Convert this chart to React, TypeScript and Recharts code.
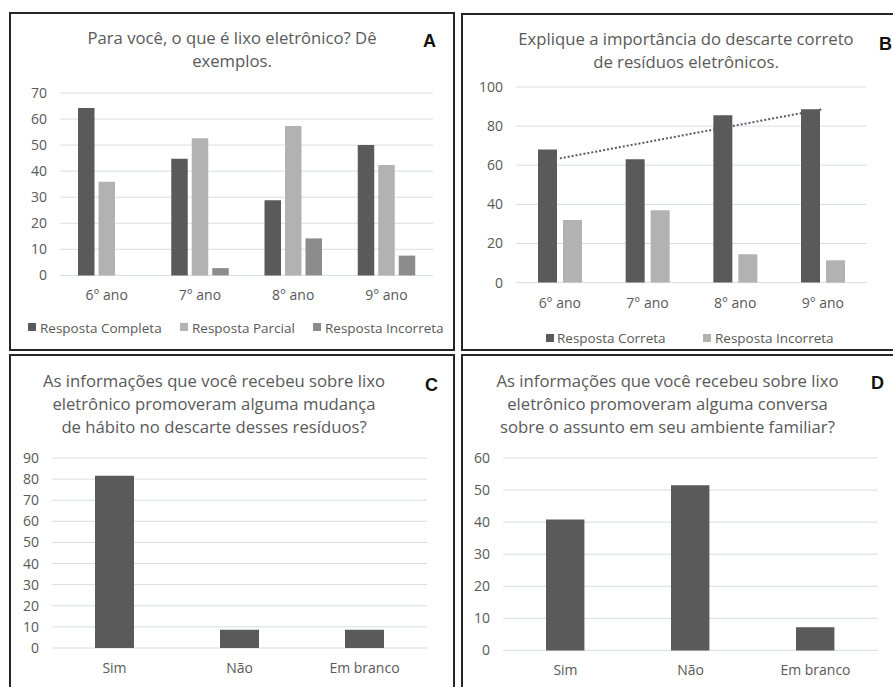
import React from "react";
import { BarChart, Bar, ComposedChart, Line, XAxis, YAxis, CartesianGrid } from "recharts";

// shared categories
const grades = ["6° ano", "7° ano", "8° ano", "9° ano"];
const answers = ["Sim", "Não", "Em branco"];

// A: Para você, o que é lixo eletrônico?
const completaA = [64.2, 44.8, 28.8, 50];
const parcialA = [35.9, 52.6, 57.3, 42.4];
const incorretaA = [0, 2.8, 14.2, 7.6];
const ticksA = [0, 10, 20, 30, 40, 50, 60, 70];

// B: importância do descarte correto
const corretaB = [68, 63, 85.5, 88.6];
const incorretaB = [32, 37, 14.5, 11.4];
const trendB = [63.5, 71.9, 80.3, 88.7];
const ticksB = [0, 20, 40, 60, 80, 100];

// C: mudança de hábito
const valuesC = [81.6, 8.7, 8.7];
const ticksC = [0, 10, 20, 30, 40, 50, 60, 70, 80, 90];

// D: conversa no ambiente familiar
const valuesD = [40.8, 51.5, 7.2];
const ticksD = [0, 10, 20, 30, 40, 50, 60];

const dark = "#5a5a5a";
const light = "#b2b2b2";
const mid = "#8c8c8c";
const grid = "#d9dde1";
const textColor = "#595959";
const font = "'Open Sans', sans-serif";

const dataA = grades.map((g, i) => ({ name: g, completa: completaA[i], parcial: parcialA[i], incorreta: incorretaA[i] }));
const dataB = grades.map((g, i) => ({ name: g, correta: corretaB[i], incorreta: incorretaB[i], trend: trendB[i] }));
const dataC = answers.map((a, i) => ({ name: a, value: valuesC[i] }));
const dataD = answers.map((a, i) => ({ name: a, value: valuesD[i] }));

const YW = 50;
const MT = 10;
const XH = 40;
const MR = 10;

function frame(pl: number, pr: number, pt: number, pb: number) {
  return {
    left: pl - YW,
    top: pt - MT,
    width: pr - pl + YW + MR,
    height: pb - pt + MT + XH,
  };
}

const tick = { fill: textColor, fontSize: 14, fontFamily: font };

function axes(max: number, ticks: number[]) {
  return [
    <CartesianGrid key="g" vertical={false} stroke={grid} />,
    <XAxis key="x" dataKey="name" height={XH} tick={tick} tickSize={0} tickMargin={15} axisLine={false} tickLine={false} />,
    <YAxis key="y" width={YW} domain={[0, max]} ticks={ticks} tick={tick} tickSize={0} tickMargin={13} axisLine={false} tickLine={false} interval={0} />,
  ];
}

function Chart({ f, children }: { f: any; children: React.ReactNode }) {
  return <div style={{ position: "absolute", left: f.left, top: f.top }}>{children}</div>;
}

export default function App() {
  const fA = frame(60, 433, 93.3, 275.7);
  const fB = frame(516, 866.7, 86.7, 282.3);
  const fC = frame(52, 427, 458.3, 648.3);
  const fD = frame(503.3, 878.3, 458.3, 650.7);
  const m = { top: MT, right: MR, bottom: 0, left: 0 };

  return (
    <div style={{ position: "absolute", left: 0, top: 0, width: 893, height: 687, overflow: "hidden", background: "#fff", fontFamily: font }}>
      <Chart f={fA}>
        <BarChart width={fA.width} height={fA.height} data={dataA} margin={m} barGap={4}>
          {axes(70, ticksA)}
          <Bar dataKey="completa" fill={dark} barSize={16.5} isAnimationActive={false} />
          <Bar dataKey="parcial" fill={light} barSize={16.5} isAnimationActive={false} />
          <Bar dataKey="incorreta" fill={mid} barSize={16.5} isAnimationActive={false} />
        </BarChart>
      </Chart>
      <Chart f={fB}>
        <ComposedChart width={fB.width} height={fB.height} data={dataB} margin={m} barGap={6}>
          {axes(100, ticksB)}
          <Bar dataKey="correta" fill={dark} barSize={19} isAnimationActive={false} />
          <Bar dataKey="incorreta" fill={light} barSize={19} isAnimationActive={false} />
          <Line dataKey="trend" stroke="#555b63" strokeWidth={2} strokeDasharray="2 2" dot={false} type="linear" isAnimationActive={false} />
        </ComposedChart>
      </Chart>
      <Chart f={fC}>
        <BarChart width={fC.width} height={fC.height} data={dataC} margin={m}>
          {axes(90, ticksC)}
          <Bar dataKey="value" fill={dark} barSize={39} isAnimationActive={false} />
        </BarChart>
      </Chart>
      <Chart f={fD}>
        <BarChart width={fD.width} height={fD.height} data={dataD} margin={m}>
          {axes(60, ticksD)}
          <Bar dataKey="value" fill={dark} barSize={38.4} isAnimationActive={false} />
        </BarChart>
      </Chart>

      <svg width={893} height={687} style={{ position: "absolute", left: 0, top: 0, pointerEvents: "none" }}>
        <g fill="none" stroke="#262626" strokeWidth={2}>
          <rect x={10} y={13} width={444} height={337} />
          <rect x={462} y={14} width={440} height={336} />
          <rect x={10} y={355} width={444} height={340} />
          <rect x={462} y={355} width={440} height={340} />
        </g>

        <g fill={textColor} fontFamily={font} textAnchor="middle" fontSize={16.7}>
          <text x={232} y={44.3}>Para você, o que é lixo eletrônico? Dê</text>
          <text x={232} y={67}>exemplos.</text>
          <text x={686} y={45}>Explique a importância do descarte correto</text>
          <text x={686} y={67.5}>de resíduos eletrônicos.</text>
          <text x={214} y={387.3}>As informações que você recebeu sobre lixo</text>
          <text x={214} y={410}>eletrônico promoveram alguma mudança</text>
          <text x={214} y={432.7}>de hábito no descarte desses resíduos?</text>
          <text x={667.5} y={387.3}>As informações que você recebeu sobre lixo</text>
          <text x={667.5} y={410}>eletrônico promoveram alguma conversa</text>
          <text x={667.5} y={432.7}>sobre o assunto em seu ambiente familiar?</text>
        </g>

        <g fill="#111" fontFamily="'Liberation Sans', Arial, sans-serif" fontWeight="bold" fontSize={18}>
          <text x={423} y={47}>A</text>
          <text x={879} y={50}>B</text>
          <text x={425} y={391}>C</text>
          <text x={871} y={389}>D</text>
        </g>

        <g fontFamily={font} fontSize={13.5} fill={textColor}>
          <rect x={28} y={323} width={8} height={8} fill={dark} />
          <text x={40} y={332.7}>Resposta Completa</text>
          <rect x={180} y={323} width={8} height={8} fill={light} />
          <text x={192} y={332.7}>Resposta Parcial</text>
          <rect x={313} y={323} width={8} height={8} fill={mid} />
          <text x={325} y={332.7}>Resposta Incorreta</text>
          <rect x={546} y={334} width={8} height={8} fill={dark} />
          <text x={557} y={343}>Resposta Correta</text>
          <rect x={703} y={334} width={8} height={8} fill={light} />
          <text x={715} y={343}>Resposta Incorreta</text>
        </g>
      </svg>
    </div>
  );
}
